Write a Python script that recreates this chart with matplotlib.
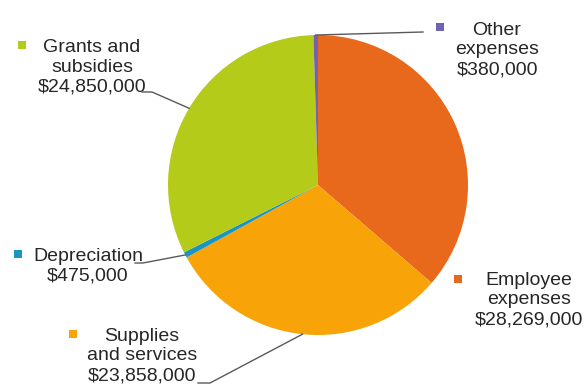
import numpy as np
import matplotlib
matplotlib.use("Agg")
import matplotlib.pyplot as plt

# expense categories, in drawing order (clockwise from 12 o'clock)
categories = ["Employee\nexpenses", "Supplies\nand services", "Depreciation",
              "Grants and\nsubsidies", "Other\nexpenses"]
amounts = [28269000, 23858000, 475000, 24850000, 380000]
colors = ["#E8681C", "#F8A408", "#1C94C2", "#B4CB1A", "#7262B2"]

W, H = 587, 387
fig = plt.figure(figsize=(W / 100, H / 100), dpi=100)
ax = fig.add_axes([0, 0, 1, 1])

cx, cy, r = 318, H - 185, 150
wedges, _ = ax.pie(amounts, colors=colors, startangle=90, counterclock=False,
                   center=(cx, cy), radius=r, frame=True,
                   wedgeprops=dict(linewidth=0))
ax.set_xlim(0, W)
ax.set_ylim(0, H)
ax.set_aspect("equal")
ax.axis("off")

txt = "#262626"
font = dict(family="Liberation Sans", size=14, color=txt)

def edge_point(w):
    a = np.deg2rad((w.theta1 + w.theta2) / 2)
    return cx + r * np.cos(a), cy + r * np.sin(a)

# label layout: (text centre x, text centre y, marker x, marker y) in px from top
layout = [
    (529, 300, 458, 279),
    (142, 356, 73, 334),
    (88, 266, 18, 254),
    (92, 67, 22, 45),
    (497, 50, 440, 27),
]
# leader line start points (px from top), None = no leader
leaders = [None, (198, 383), (135, 263), (142, 92), (423, 32)]
elbow = [None, 210, 143, 152, None]

for i, (name, amt) in enumerate(zip(categories, amounts)):
    tx, ty, mx, my = layout[i]
    label = f"{name}\n${amt:,.0f}"
    ax.text(tx, H - ty, label, ha="center", va="center", linespacing=1.22,
            **font)
    ax.scatter([mx], [H - my], marker="s", s=34, color=colors[i],
               linewidths=0, zorder=3)
    if leaders[i] is not None:
        ex, ey = edge_point(wedges[i])
        sx, sy = leaders[i]
        xs, ys = [sx], [H - sy]
        if elbow[i] is not None:
            xs.append(elbow[i])
            ys.append(H - sy)
        xs.append(ex)
        ys.append(ey)
        ax.plot(xs, ys, color="#595959", linewidth=1.0, zorder=4)

fig.savefig("out.png", dpi=100)
